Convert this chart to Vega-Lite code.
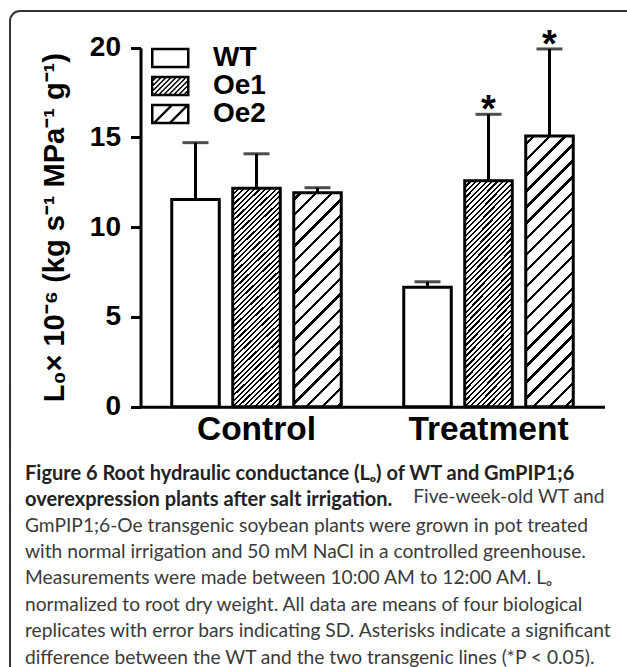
{
  "$schema": "https://vega.github.io/schema/vega-lite/v6.json",
  "width": 627,
  "height": 666,
  "autosize": "none",
  "padding": {"left": 10, "top": 11, "right": -10, "bottom": -10},
  "background": "white",
  "title": {
    "text": ["Figure 6 Root hydraulic conductance (Lₒ) of WT and GmPIP1;6", "overexpression plants after salt irrigation."],
    "subtitle": ["GmPIP1;6-Oe transgenic soybean plants were grown in pot treated", "with normal irrigation and 50 mM NaCl in a controlled greenhouse.", "Measurements were made between 10:00 AM to 12:00 AM. Lₒ", "normalized to root dry weight. All data are means of four biological", "replicates with error bars indicating SD. Asterisks indicate a significant", "difference between the WT and the two transgenic lines (*P < 0.05)."],
    "orient": "bottom",
    "anchor": "start",
    "frame": "group",
    "baseline": "top",
    "offset": -213,
    "dx": 15,
    "font": "Lato",
    "fontSize": 20,
    "fontWeight": "bold",
    "color": "#222222",
    "lineHeight": 26.4,
    "subtitleFont": "Lato",
    "subtitleFontSize": 19.2,
    "subtitleFontWeight": "normal",
    "subtitleColor": "#3a3a3a",
    "subtitleLineHeight": 26.4,
    "subtitlePadding": 6.3
  },
  "data": {
    "values": [
      {"group": "Control", "genotype": "WT", "mean": 11.55, "upper": 14.71, "sig": ""},
      {"group": "Control", "genotype": "Oe1", "mean": 12.17, "upper": 14.09, "sig": ""},
      {"group": "Control", "genotype": "Oe2", "mean": 11.92, "upper": 12.2, "sig": ""},
      {"group": "Treatment", "genotype": "WT", "mean": 6.65, "upper": 6.96, "sig": ""},
      {"group": "Treatment", "genotype": "Oe1", "mean": 12.59, "upper": 16.29, "sig": "*"},
      {"group": "Treatment", "genotype": "Oe2", "mean": 15.08, "upper": 19.93, "sig": "*"}
    ]
  },
  "encoding": {
    "x": {
      "field": "group",
      "type": "nominal",
      "sort": ["Control", "Treatment"],
      "scale": {"range": [130.5, 594.5], "paddingInner": 0.2694, "paddingOuter": 0.1347},
      "axis": {
        "title": "Five-week-old WT and",
        "titleX": 594,
        "titleY": 95.7,
        "titleAlign": "right",
        "titleBaseline": "alphabetic",
        "titleFont": "Lato",
        "titleFontSize": 19.2,
        "titleFontWeight": "normal",
        "titleColor": "#3a3a3a",
        "labelFont": "Liberation Sans",
        "labelFontSize": 33.5,
        "labelFontWeight": "bold",
        "labelColor": "black",
        "labelAngle": 0,
        "labelPadding": 6.5,
        "ticks": false,
        "tickSize": 0,
        "domainWidth": 3,
        "domainColor": "black",
        "grid": false,
        "offset": -270.3
      }
    },
    "xOffset": {
      "field": "genotype",
      "type": "nominal",
      "sort": ["WT", "Oe1", "Oe2"],
      "scale": {"paddingInner": 0.221, "paddingOuter": 0}
    },
    "y": {
      "field": "mean",
      "type": "quantitative",
      "stack": null,
      "scale": {"domain": [0, 20], "range": [395.7, 36.7], "nice": false},
      "axis": {
        "title": "L₀× 10⁻⁶ (kg s⁻¹ MPa⁻¹ g⁻¹)",
        "titleFont": "Liberation Sans",
        "titleFontSize": 29,
        "titleFontWeight": "bold",
        "titleColor": "black",
        "titlePadding": 20,
        "values": [0, 5, 10, 15, 20],
        "labelFont": "Liberation Sans",
        "labelFontSize": 28,
        "labelFontWeight": "bold",
        "labelColor": "black",
        "labelPadding": 10,
        "labelFlush": false,
        "labelOverlap": false,
        "tickSize": 10,
        "tickWidth": 3,
        "tickColor": "black",
        "domainWidth": 3,
        "domainColor": "black",
        "grid": false,
        "offset": -130.5
      }
    }
  },
  "layer": [
    {
      "transform": [{"filter": "datum.genotype === 'WT'"}],
      "mark": {"type": "bar", "stroke": "black", "strokeWidth": 3, "fill": "white"}
    },
    {
      "transform": [{"filter": "datum.genotype === 'Oe1'"}],
      "mark": {"type": "bar", "stroke": "black", "strokeWidth": 3, "fill": {"gradient": "linear", "x1": 0, "y1": 0, "x2": 0.2481, "y2": 1.1607, "stops": [
        {"offset": 0, "color": "#000"}, {"offset": 0.008, "color": "#000"}, {"offset": 0.008, "color": "#fff"}, {"offset": 0.02, "color": "#fff"},
        {"offset": 0.02, "color": "#000"}, {"offset": 0.028, "color": "#000"}, {"offset": 0.028, "color": "#fff"}, {"offset": 0.04, "color": "#fff"},
        {"offset": 0.04, "color": "#000"}, {"offset": 0.048, "color": "#000"}, {"offset": 0.048, "color": "#fff"}, {"offset": 0.06, "color": "#fff"},
        {"offset": 0.06, "color": "#000"}, {"offset": 0.068, "color": "#000"}, {"offset": 0.068, "color": "#fff"}, {"offset": 0.08, "color": "#fff"},
        {"offset": 0.08, "color": "#000"}, {"offset": 0.088, "color": "#000"}, {"offset": 0.088, "color": "#fff"}, {"offset": 0.1, "color": "#fff"},
        {"offset": 0.1, "color": "#000"}, {"offset": 0.108, "color": "#000"}, {"offset": 0.108, "color": "#fff"}, {"offset": 0.12, "color": "#fff"},
        {"offset": 0.12, "color": "#000"}, {"offset": 0.128, "color": "#000"}, {"offset": 0.128, "color": "#fff"}, {"offset": 0.14, "color": "#fff"},
        {"offset": 0.14, "color": "#000"}, {"offset": 0.148, "color": "#000"}, {"offset": 0.148, "color": "#fff"}, {"offset": 0.16, "color": "#fff"},
        {"offset": 0.16, "color": "#000"}, {"offset": 0.168, "color": "#000"}, {"offset": 0.168, "color": "#fff"}, {"offset": 0.18, "color": "#fff"},
        {"offset": 0.18, "color": "#000"}, {"offset": 0.188, "color": "#000"}, {"offset": 0.188, "color": "#fff"}, {"offset": 0.2, "color": "#fff"},
        {"offset": 0.2, "color": "#000"}, {"offset": 0.208, "color": "#000"}, {"offset": 0.208, "color": "#fff"}, {"offset": 0.22, "color": "#fff"},
        {"offset": 0.22, "color": "#000"}, {"offset": 0.228, "color": "#000"}, {"offset": 0.228, "color": "#fff"}, {"offset": 0.24, "color": "#fff"},
        {"offset": 0.24, "color": "#000"}, {"offset": 0.248, "color": "#000"}, {"offset": 0.248, "color": "#fff"}, {"offset": 0.26, "color": "#fff"},
        {"offset": 0.26, "color": "#000"}, {"offset": 0.268, "color": "#000"}, {"offset": 0.268, "color": "#fff"}, {"offset": 0.28, "color": "#fff"},
        {"offset": 0.28, "color": "#000"}, {"offset": 0.288, "color": "#000"}, {"offset": 0.288, "color": "#fff"}, {"offset": 0.3, "color": "#fff"},
        {"offset": 0.3, "color": "#000"}, {"offset": 0.308, "color": "#000"}, {"offset": 0.308, "color": "#fff"}, {"offset": 0.32, "color": "#fff"},
        {"offset": 0.32, "color": "#000"}, {"offset": 0.328, "color": "#000"}, {"offset": 0.328, "color": "#fff"}, {"offset": 0.34, "color": "#fff"},
        {"offset": 0.34, "color": "#000"}, {"offset": 0.348, "color": "#000"}, {"offset": 0.348, "color": "#fff"}, {"offset": 0.36, "color": "#fff"},
        {"offset": 0.36, "color": "#000"}, {"offset": 0.368, "color": "#000"}, {"offset": 0.368, "color": "#fff"}, {"offset": 0.38, "color": "#fff"},
        {"offset": 0.38, "color": "#000"}, {"offset": 0.388, "color": "#000"}, {"offset": 0.388, "color": "#fff"}, {"offset": 0.4, "color": "#fff"},
        {"offset": 0.4, "color": "#000"}, {"offset": 0.408, "color": "#000"}, {"offset": 0.408, "color": "#fff"}, {"offset": 0.42, "color": "#fff"},
        {"offset": 0.42, "color": "#000"}, {"offset": 0.428, "color": "#000"}, {"offset": 0.428, "color": "#fff"}, {"offset": 0.44, "color": "#fff"},
        {"offset": 0.44, "color": "#000"}, {"offset": 0.448, "color": "#000"}, {"offset": 0.448, "color": "#fff"}, {"offset": 0.46, "color": "#fff"},
        {"offset": 0.46, "color": "#000"}, {"offset": 0.468, "color": "#000"}, {"offset": 0.468, "color": "#fff"}, {"offset": 0.48, "color": "#fff"},
        {"offset": 0.48, "color": "#000"}, {"offset": 0.488, "color": "#000"}, {"offset": 0.488, "color": "#fff"}, {"offset": 0.5, "color": "#fff"},
        {"offset": 0.5, "color": "#000"}, {"offset": 0.508, "color": "#000"}, {"offset": 0.508, "color": "#fff"}, {"offset": 0.52, "color": "#fff"},
        {"offset": 0.52, "color": "#000"}, {"offset": 0.528, "color": "#000"}, {"offset": 0.528, "color": "#fff"}, {"offset": 0.54, "color": "#fff"},
        {"offset": 0.54, "color": "#000"}, {"offset": 0.548, "color": "#000"}, {"offset": 0.548, "color": "#fff"}, {"offset": 0.56, "color": "#fff"},
        {"offset": 0.56, "color": "#000"}, {"offset": 0.568, "color": "#000"}, {"offset": 0.568, "color": "#fff"}, {"offset": 0.58, "color": "#fff"},
        {"offset": 0.58, "color": "#000"}, {"offset": 0.588, "color": "#000"}, {"offset": 0.588, "color": "#fff"}, {"offset": 0.6, "color": "#fff"},
        {"offset": 0.6, "color": "#000"}, {"offset": 0.608, "color": "#000"}, {"offset": 0.608, "color": "#fff"}, {"offset": 0.62, "color": "#fff"},
        {"offset": 0.62, "color": "#000"}, {"offset": 0.628, "color": "#000"}, {"offset": 0.628, "color": "#fff"}, {"offset": 0.64, "color": "#fff"},
        {"offset": 0.64, "color": "#000"}, {"offset": 0.648, "color": "#000"}, {"offset": 0.648, "color": "#fff"}, {"offset": 0.66, "color": "#fff"},
        {"offset": 0.66, "color": "#000"}, {"offset": 0.668, "color": "#000"}, {"offset": 0.668, "color": "#fff"}, {"offset": 0.68, "color": "#fff"},
        {"offset": 0.68, "color": "#000"}, {"offset": 0.688, "color": "#000"}, {"offset": 0.688, "color": "#fff"}, {"offset": 0.7, "color": "#fff"},
        {"offset": 0.7, "color": "#000"}, {"offset": 0.708, "color": "#000"}, {"offset": 0.708, "color": "#fff"}, {"offset": 0.72, "color": "#fff"},
        {"offset": 0.72, "color": "#000"}, {"offset": 0.728, "color": "#000"}, {"offset": 0.728, "color": "#fff"}, {"offset": 0.74, "color": "#fff"},
        {"offset": 0.74, "color": "#000"}, {"offset": 0.748, "color": "#000"}, {"offset": 0.748, "color": "#fff"}, {"offset": 0.76, "color": "#fff"},
        {"offset": 0.76, "color": "#000"}, {"offset": 0.768, "color": "#000"}, {"offset": 0.768, "color": "#fff"}, {"offset": 0.78, "color": "#fff"},
        {"offset": 0.78, "color": "#000"}, {"offset": 0.788, "color": "#000"}, {"offset": 0.788, "color": "#fff"}, {"offset": 0.8, "color": "#fff"},
        {"offset": 0.8, "color": "#000"}, {"offset": 0.808, "color": "#000"}, {"offset": 0.808, "color": "#fff"}, {"offset": 0.82, "color": "#fff"},
        {"offset": 0.82, "color": "#000"}, {"offset": 0.828, "color": "#000"}, {"offset": 0.828, "color": "#fff"}, {"offset": 0.84, "color": "#fff"},
        {"offset": 0.84, "color": "#000"}, {"offset": 0.848, "color": "#000"}, {"offset": 0.848, "color": "#fff"}, {"offset": 0.86, "color": "#fff"},
        {"offset": 0.86, "color": "#000"}, {"offset": 0.868, "color": "#000"}, {"offset": 0.868, "color": "#fff"}, {"offset": 0.88, "color": "#fff"},
        {"offset": 0.88, "color": "#000"}, {"offset": 0.888, "color": "#000"}, {"offset": 0.888, "color": "#fff"}, {"offset": 0.9, "color": "#fff"},
        {"offset": 0.9, "color": "#000"}, {"offset": 0.908, "color": "#000"}, {"offset": 0.908, "color": "#fff"}, {"offset": 0.92, "color": "#fff"},
        {"offset": 0.92, "color": "#000"}, {"offset": 0.928, "color": "#000"}, {"offset": 0.928, "color": "#fff"}, {"offset": 0.94, "color": "#fff"},
        {"offset": 0.94, "color": "#000"}, {"offset": 0.948, "color": "#000"}, {"offset": 0.948, "color": "#fff"}, {"offset": 0.96, "color": "#fff"},
        {"offset": 0.96, "color": "#000"}, {"offset": 0.968, "color": "#000"}, {"offset": 0.968, "color": "#fff"}, {"offset": 0.98, "color": "#fff"},
        {"offset": 0.98, "color": "#000"}, {"offset": 0.988, "color": "#000"}, {"offset": 0.988, "color": "#fff"}, {"offset": 1, "color": "#fff"}
      ]}}
    },
    {
      "transform": [{"filter": "datum.genotype === 'Oe2' && datum.group === 'Control'"}],
      "mark": {"type": "bar", "stroke": "black", "strokeWidth": 3, "fill": {"gradient": "linear", "x1": 0, "y1": 0, "x2": 0.2585, "y2": 1.1646, "stops": [
        {"offset": 0, "color": "#fff"},
        {"offset": 0.02, "color": "#fff"}, {"offset": 0.02, "color": "#000"}, {"offset": 0.033, "color": "#000"}, {"offset": 0.033, "color": "#fff"},
        {"offset": 0.08, "color": "#fff"}, {"offset": 0.08, "color": "#000"}, {"offset": 0.093, "color": "#000"}, {"offset": 0.093, "color": "#fff"},
        {"offset": 0.14, "color": "#fff"}, {"offset": 0.14, "color": "#000"}, {"offset": 0.153, "color": "#000"}, {"offset": 0.153, "color": "#fff"},
        {"offset": 0.2, "color": "#fff"}, {"offset": 0.2, "color": "#000"}, {"offset": 0.213, "color": "#000"}, {"offset": 0.213, "color": "#fff"},
        {"offset": 0.26, "color": "#fff"}, {"offset": 0.26, "color": "#000"}, {"offset": 0.273, "color": "#000"}, {"offset": 0.273, "color": "#fff"},
        {"offset": 0.32, "color": "#fff"}, {"offset": 0.32, "color": "#000"}, {"offset": 0.333, "color": "#000"}, {"offset": 0.333, "color": "#fff"},
        {"offset": 0.38, "color": "#fff"}, {"offset": 0.38, "color": "#000"}, {"offset": 0.393, "color": "#000"}, {"offset": 0.393, "color": "#fff"},
        {"offset": 0.44, "color": "#fff"}, {"offset": 0.44, "color": "#000"}, {"offset": 0.453, "color": "#000"}, {"offset": 0.453, "color": "#fff"},
        {"offset": 0.5, "color": "#fff"}, {"offset": 0.5, "color": "#000"}, {"offset": 0.513, "color": "#000"}, {"offset": 0.513, "color": "#fff"},
        {"offset": 0.56, "color": "#fff"}, {"offset": 0.56, "color": "#000"}, {"offset": 0.573, "color": "#000"}, {"offset": 0.573, "color": "#fff"},
        {"offset": 0.62, "color": "#fff"}, {"offset": 0.62, "color": "#000"}, {"offset": 0.633, "color": "#000"}, {"offset": 0.633, "color": "#fff"},
        {"offset": 0.68, "color": "#fff"}, {"offset": 0.68, "color": "#000"}, {"offset": 0.693, "color": "#000"}, {"offset": 0.693, "color": "#fff"},
        {"offset": 0.74, "color": "#fff"}, {"offset": 0.74, "color": "#000"}, {"offset": 0.753, "color": "#000"}, {"offset": 0.753, "color": "#fff"},
        {"offset": 0.8, "color": "#fff"}, {"offset": 0.8, "color": "#000"}, {"offset": 0.813, "color": "#000"}, {"offset": 0.813, "color": "#fff"},
        {"offset": 0.86, "color": "#fff"}, {"offset": 0.86, "color": "#000"}, {"offset": 0.873, "color": "#000"}, {"offset": 0.873, "color": "#fff"},
        {"offset": 0.92, "color": "#fff"}, {"offset": 0.92, "color": "#000"}, {"offset": 0.933, "color": "#000"}, {"offset": 0.933, "color": "#fff"},
        {"offset": 0.98, "color": "#fff"}, {"offset": 0.98, "color": "#000"}, {"offset": 0.993, "color": "#000"}, {"offset": 0.993, "color": "#fff"},
        {"offset": 1, "color": "#fff"}
      ]}}
    },
    {
      "transform": [{"filter": "datum.genotype === 'Oe2' && datum.group === 'Treatment'"}],
      "mark": {"type": "bar", "stroke": "black", "strokeWidth": 3, "fill": {"gradient": "linear", "x1": 0, "y1": 0, "x2": 0.2001, "y2": 1.1404, "stops": [
        {"offset": 0, "color": "#fff"},
        {"offset": 0.02, "color": "#fff"}, {"offset": 0.02, "color": "#000"}, {"offset": 0.0305, "color": "#000"}, {"offset": 0.0305, "color": "#fff"},
        {"offset": 0.07, "color": "#fff"}, {"offset": 0.07, "color": "#000"}, {"offset": 0.0805, "color": "#000"}, {"offset": 0.0805, "color": "#fff"},
        {"offset": 0.12, "color": "#fff"}, {"offset": 0.12, "color": "#000"}, {"offset": 0.1305, "color": "#000"}, {"offset": 0.1305, "color": "#fff"},
        {"offset": 0.17, "color": "#fff"}, {"offset": 0.17, "color": "#000"}, {"offset": 0.1805, "color": "#000"}, {"offset": 0.1805, "color": "#fff"},
        {"offset": 0.22, "color": "#fff"}, {"offset": 0.22, "color": "#000"}, {"offset": 0.2305, "color": "#000"}, {"offset": 0.2305, "color": "#fff"},
        {"offset": 0.27, "color": "#fff"}, {"offset": 0.27, "color": "#000"}, {"offset": 0.2805, "color": "#000"}, {"offset": 0.2805, "color": "#fff"},
        {"offset": 0.32, "color": "#fff"}, {"offset": 0.32, "color": "#000"}, {"offset": 0.3305, "color": "#000"}, {"offset": 0.3305, "color": "#fff"},
        {"offset": 0.37, "color": "#fff"}, {"offset": 0.37, "color": "#000"}, {"offset": 0.3805, "color": "#000"}, {"offset": 0.3805, "color": "#fff"},
        {"offset": 0.42, "color": "#fff"}, {"offset": 0.42, "color": "#000"}, {"offset": 0.4305, "color": "#000"}, {"offset": 0.4305, "color": "#fff"},
        {"offset": 0.47, "color": "#fff"}, {"offset": 0.47, "color": "#000"}, {"offset": 0.4805, "color": "#000"}, {"offset": 0.4805, "color": "#fff"},
        {"offset": 0.52, "color": "#fff"}, {"offset": 0.52, "color": "#000"}, {"offset": 0.5305, "color": "#000"}, {"offset": 0.5305, "color": "#fff"},
        {"offset": 0.57, "color": "#fff"}, {"offset": 0.57, "color": "#000"}, {"offset": 0.5805, "color": "#000"}, {"offset": 0.5805, "color": "#fff"},
        {"offset": 0.62, "color": "#fff"}, {"offset": 0.62, "color": "#000"}, {"offset": 0.6305, "color": "#000"}, {"offset": 0.6305, "color": "#fff"},
        {"offset": 0.67, "color": "#fff"}, {"offset": 0.67, "color": "#000"}, {"offset": 0.6805, "color": "#000"}, {"offset": 0.6805, "color": "#fff"},
        {"offset": 0.72, "color": "#fff"}, {"offset": 0.72, "color": "#000"}, {"offset": 0.7305, "color": "#000"}, {"offset": 0.7305, "color": "#fff"},
        {"offset": 0.77, "color": "#fff"}, {"offset": 0.77, "color": "#000"}, {"offset": 0.7805, "color": "#000"}, {"offset": 0.7805, "color": "#fff"},
        {"offset": 0.82, "color": "#fff"}, {"offset": 0.82, "color": "#000"}, {"offset": 0.8305, "color": "#000"}, {"offset": 0.8305, "color": "#fff"},
        {"offset": 0.87, "color": "#fff"}, {"offset": 0.87, "color": "#000"}, {"offset": 0.8805, "color": "#000"}, {"offset": 0.8805, "color": "#fff"},
        {"offset": 0.92, "color": "#fff"}, {"offset": 0.92, "color": "#000"}, {"offset": 0.9305, "color": "#000"}, {"offset": 0.9305, "color": "#fff"},
        {"offset": 0.97, "color": "#fff"}, {"offset": 0.97, "color": "#000"}, {"offset": 0.9805, "color": "#000"}, {"offset": 0.9805, "color": "#fff"},
        {"offset": 1, "color": "#fff"}
      ]}}
    },
    {
      "mark": {"type": "point", "filled": true, "color": "black", "opacity": 0, "strokeWidth": 0},
      "encoding": {
        "shape": {
          "field": "genotype",
          "type": "nominal",
          "scale": {
            "domain": ["WT", "Oe1", "Oe2"],
            "range": [
              "M-1,-1.025H2.85V1.025H-1Z M-0.75,-0.775V0.775H2.6V-0.775Z",
              "M-1,-1.025H2.85V1.025H-1Z M-0.75,-0.775V0.775H2.6V-0.775Z M-0.55,-0.9H-0.35L-0.9,-0.35V-0.55Z M-0.05,-0.9H0.15L-0.9,0.15V-0.05Z M0.45,-0.9H0.65L-0.9,0.65V0.45Z M0.95,-0.9H1.15L-0.65,0.9H-0.85Z M1.45,-0.9H1.65L-0.15,0.9H-0.35Z M1.95,-0.9H2.15L0.35,0.9H0.15Z M2.45,-0.9H2.65L0.85,0.9H0.65Z M2.75,-0.7V-0.5L1.35,0.9H1.15Z M2.75,-0.2V0L1.85,0.9H1.65Z M2.75,0.3V0.5L2.35,0.9H2.15Z",
              "M-1,-1.025H2.85V1.025H-1Z M-0.75,-0.775V0.775H2.6V-0.775Z M0.935,-0.9H1.265L-0.535,0.9H-0.865Z M2.515,-0.9H2.845L1.045,0.9H0.715Z"
            ]
          },
          "legend": {
            "orient": "none",
            "legendX": 137,
            "legendY": 33,
            "title": null,
            "padding": 0,
            "symbolSize": 400,
            "symbolFillColor": "black",
            "symbolStrokeWidth": 0,
            "symbolOpacity": 1,
            "labelFont": "Liberation Sans",
            "labelFontSize": 28,
            "labelFontWeight": "bold",
            "labelColor": "black",
            "labelOffset": 38,
            "rowPadding": -3
          }
        }
      }
    },
    {
      "mark": {"type": "rule", "color": "black", "strokeWidth": 3},
      "encoding": {
        "y2": {"field": "upper"}
      }
    },
    {
      "mark": {"type": "tick", "color": "black", "thickness": 3, "size": 26},
      "encoding": {
        "y": {"field": "upper", "type": "quantitative"}
      }
    },
    {
      "mark": {"type": "text", "font": "Liberation Sans", "fontWeight": "bold", "fontSize": 38, "baseline": "alphabetic", "dy": 8, "color": "black"},
      "encoding": {
        "y": {"field": "upper", "type": "quantitative"},
        "text": {"field": "sig"}
      }
    }
  ],
  "config": {
    "view": {"stroke": "#333333", "strokeWidth": 2, "cornerRadius": 10},
    "axis": {"grid": false}
  }
}
